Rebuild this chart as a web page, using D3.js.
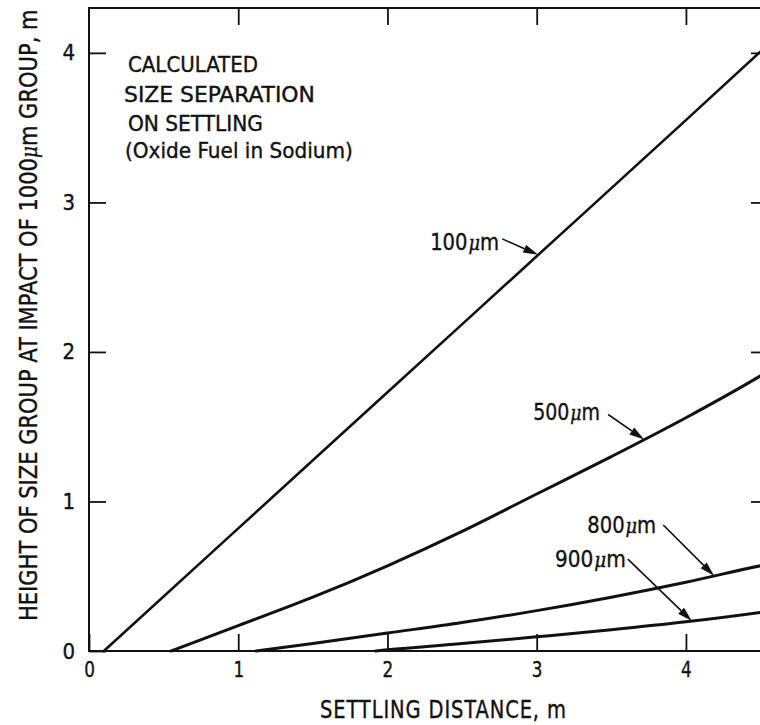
<!DOCTYPE html>
<html>
<head>
<meta charset="utf-8">
<script src="https://cdn.jsdelivr.net/npm/d3@7"></script>
<style>
  html, body { margin: 0; padding: 0; background: #fff; }
  svg { display: block; }
  text { fill: #111; stroke: #111; stroke-width: 0.35; font-family: 'DejaVu Sans Condensed', 'DejaVu Sans', sans-serif; font-stretch: condensed; }
</style>
</head>
<body>
<svg id="chart" width="760" height="725"></svg>
<script>
// Settling distance (m) and height of each size group (m) at impact of the 1000 µm group
const dist100 = [0.1, 1, 2, 3, 4, 4.6];
const height100 = [0, 0.82, 1.73, 2.64, 3.55, 4.1];

const dist500 = [0.55, 1, 1.5, 2, 2.5, 3, 3.5, 4, 4.5, 4.6];
const height500 = [0, 0.17, 0.36, 0.57, 0.8, 1.05, 1.3, 1.56, 1.84, 1.9];

const dist800 = [1.12, 1.5, 2, 2.5, 3, 3.5, 4, 4.5, 4.6];
const height800 = [0, 0.05, 0.12, 0.19, 0.27, 0.36, 0.46, 0.57, 0.59];

const dist900 = [1.92, 2, 2.5, 3, 3.5, 4, 4.5, 4.6];
const height900 = [0, 0.008, 0.05, 0.095, 0.142, 0.195, 0.258, 0.272];

const xTicks = [0, 1, 2, 3, 4];
const yTicks = [0, 1, 2, 3, 4];

const sizeLabels = ["100", "500", "800", "900"];
const arrowAt = [3.01, 3.72, 4.19, 4.04];   // distance where each label arrow meets its curve

const noteLines = ["CALCULATED", "SIZE SEPARATION", "ON SETTLING", "(Oxide Fuel in Sodium)"];

const series = [
  { dist: dist100, height: height100, width: 2.6 },
  { dist: dist500, height: height500, width: 3 },
  { dist: dist800, height: height800, width: 3 },
  { dist: dist900, height: height900, width: 3 }
];

const svg = d3.select("#chart");

const x = d3.scaleLinear().domain([0, 4.55]).range([89, 768]);
const y = d3.scaleLinear().domain([0, 4.3]).range([651, 8]);

const [x0, x1] = x.range();
const [yb, yt] = y.range();

// squeeze a text horizontally (in its own frame) so it spans the given width
function fitWidth(sel, width, base) {
  const w = sel.node().getComputedTextLength();
  sel.attr("transform", `${base || ""} scale(${width / w},1)`);
}

// plot frame
svg.append("rect")
  .attr("x", x0).attr("y", yt)
  .attr("width", x1 - x0).attr("height", yb - yt)
  .attr("fill", "none").attr("stroke", "#111").attr("stroke-width", 2);

// inward ticks on all four sides
const tickLen = 17;
const bottomAxis = d3.axisBottom(x).tickValues(xTicks).tickSize(-tickLen).tickPadding(10).tickFormat(d3.format("d"));
const leftAxis = d3.axisLeft(y).tickValues(yTicks).tickSize(-tickLen).tickPadding(12).tickFormat(d3.format("d"));
const topAxis = d3.axisTop(x).tickValues(xTicks.slice(1)).tickSize(-tickLen).tickFormat("");
const rightAxis = d3.axisRight(y).tickValues(yTicks.slice(1)).tickSize(-tickLen).tickFormat("");

function styleAxis(g) {
  g.select(".domain").remove();
  g.selectAll(".tick line").attr("stroke", "#111").attr("stroke-width", 1.8);
  g.selectAll(".tick text").attr("font-size", 22).attr("fill", "#111")
    .style("font-family", "'DejaVu Sans Condensed', 'DejaVu Sans', sans-serif");
}

const gBottom = svg.append("g").attr("transform", `translate(0,${yb})`).call(bottomAxis).call(styleAxis);
const gLeft = svg.append("g").attr("transform", `translate(${x0},0)`).call(leftAxis).call(styleAxis);
svg.append("g").attr("transform", `translate(0,${yt})`).call(topAxis).call(styleAxis);
svg.append("g").attr("transform", `translate(${x1},0)`).call(rightAxis).call(styleAxis);

gBottom.selectAll(".tick text").attr("x", 0).attr("transform", "scale(0.85,1)");
gLeft.selectAll(".tick text").attr("x", -14);

// curves
const line = d3.line().x(d => x(d[0])).y(d => y(d[1])).curve(d3.curveMonotoneX);
const interp = s => v => {
  for (let i = 1; i < s.dist.length; i++) {
    if (v <= s.dist[i]) {
      const t = (v - s.dist[i - 1]) / (s.dist[i] - s.dist[i - 1]);
      return s.height[i - 1] + t * (s.height[i] - s.height[i - 1]);
    }
  }
  return s.height[s.height.length - 1];
};

series.forEach(s => {
  svg.append("path")
    .datum(s.dist.map((d, i) => [d, s.height[i]]))
    .attr("d", line)
    .attr("fill", "none")
    .attr("stroke", "#111")
    .attr("stroke-width", s.width)
    .attr("stroke-linecap", "round");
});

// size labels with arrows pointing to their curves
const labelOffsets = [
  { dx: -36, dy: -16, lx: -72, ly: 3, w: 68 },
  { dx: -36, dy: -25, lx: -75, ly: -2, w: 66 },
  { dx: -51, dy: -51, lx: -76, ly: 0, w: 68 },
  { dx: -64, dy: -62, lx: -73, ly: 0, w: 70 }
];

const ann = svg.append("g");
series.forEach((s, i) => {
  const tx = x(arrowAt[i]);
  const ty = y(interp(s)(arrowAt[i]));
  const o = labelOffsets[i];
  const sx = tx + o.dx, sy = ty + o.dy;
  const ang = Math.atan2(ty - sy, tx - sx);
  const hl = 15, hw = 4.2;
  const bx = tx - hl * Math.cos(ang), by = ty - hl * Math.sin(ang);
  ann.append("line")
    .attr("x1", sx).attr("y1", sy).attr("x2", bx).attr("y2", by)
    .attr("stroke", "#111").attr("stroke-width", 1.6);
  ann.append("path")
    .attr("d", `M${tx},${ty}L${bx - hw * Math.sin(ang)},${by + hw * Math.cos(ang)}L${bx + hw * Math.sin(ang)},${by - hw * Math.cos(ang)}Z`)
    .attr("fill", "#111");
  const t = ann.append("text").attr("font-size", 23);
  t.append("tspan").text(sizeLabels[i]);
  t.append("tspan").attr("font-style", "italic").attr("font-family", "'DejaVu Serif', serif").attr("font-size", 21).attr("dx", 1).text("μ");
  t.append("tspan").text("m");
  fitWidth(t, o.w, `translate(${sx + o.lx},${sy + o.ly + 8})`);
});

// note block
const noteX = [128, 124, 128, 125];
const noteY = [72, 102, 131, 158];
const noteW = [130, 191, 135, 228];
noteLines.forEach((s, i) => {
  const t = svg.append("text").attr("font-size", 21).text(s);
  fitWidth(t, noteW[i], `translate(${noteX[i]},${noteY[i]})`);
});

// axis titles
const xTitle = svg.append("text").attr("font-size", 24).attr("letter-spacing", 1).text("SETTLING DISTANCE,  m");
fitWidth(xTitle, 247, "translate(320,718)");

const yTitle = svg.append("text").attr("font-size", 25);
yTitle.append("tspan").text("HEIGHT OF SIZE GROUP AT IMPACT OF 1000");
yTitle.append("tspan").attr("font-style", "italic").attr("font-family", "'DejaVu Serif', serif").attr("font-size", 22).text("μ");
yTitle.append("tspan").text("m GROUP,  m");
fitWidth(yTitle, 612, "translate(37,621) rotate(-90)");
</script>
</body>
</html>
